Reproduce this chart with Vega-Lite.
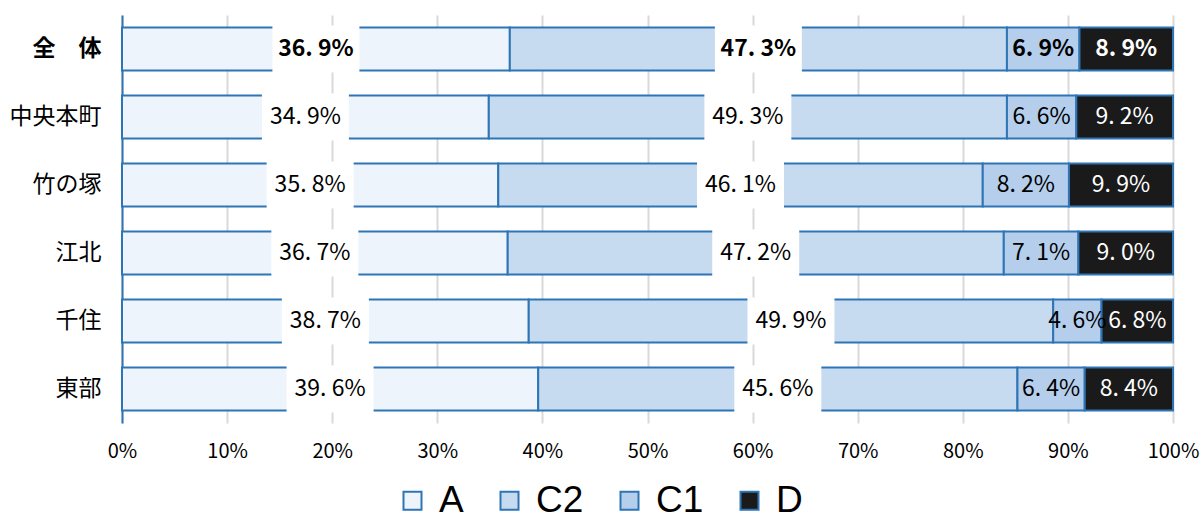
{
  "$schema": "https://vega.github.io/schema/vega-lite/v6.json",
  "width": 1051,
  "height": 408,
  "autosize": {"type": "none"},
  "padding": {"left": 122, "top": 15, "right": 28, "bottom": 92},
  "background": "white",
  "config": {
    "view": {"stroke": null},
    "font": "Noto Sans CJK JP"
  },
  "data": {
    "values": [
      {"area": "全　体", "seg": "A", "ord": 1, "value": 36.9},
      {"area": "全　体", "seg": "C2", "ord": 2, "value": 47.3},
      {"area": "全　体", "seg": "C1", "ord": 3, "value": 6.9},
      {"area": "全　体", "seg": "D", "ord": 4, "value": 8.9},
      {"area": "中央本町", "seg": "A", "ord": 1, "value": 34.9},
      {"area": "中央本町", "seg": "C2", "ord": 2, "value": 49.3},
      {"area": "中央本町", "seg": "C1", "ord": 3, "value": 6.6},
      {"area": "中央本町", "seg": "D", "ord": 4, "value": 9.2},
      {"area": "竹の塚", "seg": "A", "ord": 1, "value": 35.8},
      {"area": "竹の塚", "seg": "C2", "ord": 2, "value": 46.1},
      {"area": "竹の塚", "seg": "C1", "ord": 3, "value": 8.2},
      {"area": "竹の塚", "seg": "D", "ord": 4, "value": 9.9},
      {"area": "江北", "seg": "A", "ord": 1, "value": 36.7},
      {"area": "江北", "seg": "C2", "ord": 2, "value": 47.2},
      {"area": "江北", "seg": "C1", "ord": 3, "value": 7.1},
      {"area": "江北", "seg": "D", "ord": 4, "value": 9.0},
      {"area": "千住", "seg": "A", "ord": 1, "value": 38.7},
      {"area": "千住", "seg": "C2", "ord": 2, "value": 49.9},
      {"area": "千住", "seg": "C1", "ord": 3, "value": 4.6},
      {"area": "千住", "seg": "D", "ord": 4, "value": 6.8},
      {"area": "東部", "seg": "A", "ord": 1, "value": 39.6},
      {"area": "東部", "seg": "C2", "ord": 2, "value": 45.6},
      {"area": "東部", "seg": "C1", "ord": 3, "value": 6.4},
      {"area": "東部", "seg": "D", "ord": 4, "value": 8.4}
    ]
  },
  "encoding": {
    "y": {
      "field": "area",
      "type": "nominal",
      "sort": ["全　体", "中央本町", "竹の塚", "江北", "千住", "東部"],
      "scale": {"paddingInner": 0.37, "paddingOuter": 0.185},
      "axis": {
        "title": null,
        "domainColor": "#2E75B6",
        "domainWidth": 2,
        "ticks": false,
        "labelFontSize": 23,
        "labelColor": "#000000",
        "labelPadding": 21,
        "labelFont": "Noto Sans CJK JP",
        "labelFontWeight": {"condition": {"test": "datum.value === '全　体'", "value": "bold"}, "value": "normal"}
      }
    }
  },
  "layer": [
    {
      "mark": {"type": "bar", "stroke": "#2E75B6", "strokeWidth": 2},
      "encoding": {
        "x": {
          "field": "value",
          "type": "quantitative",
          "stack": "zero",
          "scale": {"domain": [0, 100], "nice": false},
          "axis": {
            "title": null,
            "values": [0, 10, 20, 30, 40, 50, 60, 70, 80, 90, 100],
            "labelExpr": "datum.value + '%'",
            "labelFlush": false,
            "labelAlign": "center",
            "grid": true,
            "gridColor": "#d9d9d9",
            "gridWidth": 2,
            "domain": false,
            "ticks": false,
            "labelFontSize": 20,
            "labelColor": "#000000",
            "labelPadding": 18,
            "labelFont": "Noto Sans CJK JP"
          }
        },
        "color": {
          "field": "seg",
          "type": "nominal",
          "scale": {"domain": ["A", "C2", "C1", "D"], "range": ["#EEF4FB", "#C6DAF0", "#B4CEEB", "#1A1A1A"]},
          "legend": {
            "title": null,
            "orient": "none",
            "legendX": 272,
            "legendY": 467,
            "direction": "horizontal",
            "symbolType": "square",
            "symbolSize": 324,
            "symbolStrokeColor": "#2E75B6",
            "symbolStrokeWidth": 2,
            "labelFontSize": 37,
            "labelFont": "Liberation Sans",
            "labelColor": "#000000",
            "labelOffset": 8,
            "columnPadding": 27
          }
        },
        "order": {"field": "ord", "type": "quantitative"}
      }
    },
    {
      "transform": [
        {"stack": "value", "groupby": ["area"], "sort": [{"field": "ord", "order": "ascending"}], "as": ["v0", "v1"]},
        {"calculate": "(datum.v0 + datum.v1) / 2", "as": "mid"},
        {"filter": "datum.seg === 'A' || datum.seg === 'C2'"}
      ],
      "mark": {"type": "point", "shape": "M-1,-0.54H1V0.54H-1Z", "filled": true, "fill": "white", "opacity": 1, "size": 7569, "strokeWidth": 0},
      "encoding": {
        "x": {"field": "mid", "type": "quantitative"}
      }
    },
    {
      "transform": [
        {"stack": "value", "groupby": ["area"], "sort": [{"field": "ord", "order": "ascending"}], "as": ["v0", "v1"]},
        {"calculate": "(datum.v0 + datum.v1) / 2", "as": "mid"},
        {"calculate": "replace(format(datum.value, '.1f'), '.', '. ') + '%'", "as": "label"},
        {"filter": "datum.area !== '全　体'"}
      ],
      "mark": {"type": "text", "fontSize": 23, "font": "Noto Sans CJK JP", "baseline": "middle", "align": "center"},
      "encoding": {
        "x": {"field": "mid", "type": "quantitative"},
        "text": {"field": "label"},
        "color": {"condition": {"test": "datum.seg === 'D'", "value": "#ffffff"}, "value": "#000000"}
      }
    },
    {
      "transform": [
        {"stack": "value", "groupby": ["area"], "sort": [{"field": "ord", "order": "ascending"}], "as": ["v0", "v1"]},
        {"calculate": "(datum.v0 + datum.v1) / 2", "as": "mid"},
        {"calculate": "replace(format(datum.value, '.1f'), '.', '. ') + '%'", "as": "label"},
        {"filter": "datum.area === '全　体'"}
      ],
      "mark": {"type": "text", "fontSize": 23, "fontWeight": "bold", "font": "Noto Sans CJK JP", "baseline": "middle", "align": "center"},
      "encoding": {
        "x": {"field": "mid", "type": "quantitative"},
        "text": {"field": "label"},
        "color": {"condition": {"test": "datum.seg === 'D'", "value": "#ffffff"}, "value": "#000000"}
      }
    }
  ]
}
